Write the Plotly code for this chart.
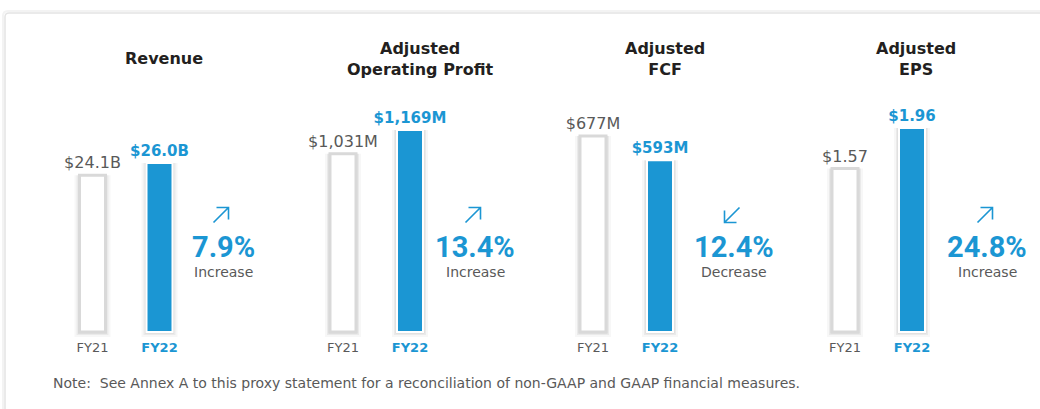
import plotly.graph_objects as go

# ---- chart data ----
metrics = ["Revenue", "Adjusted<br>Operating Profit", "Adjusted<br>FCF", "Adjusted<br>EPS"]
years = ["FY21", "FY22"]
fy21_values = [24.1, 1031, 677, 1.57]
fy22_values = [26.0, 1169, 593, 1.96]
fy21_labels = ["$24.1B", "$1,031M", "$677M", "$1.57"]
fy22_labels = ["$26.0B", "$1,169M", "$593M", "$1.96"]
change_pct = ["7.9%", "13.4%", "12.4%", "24.8%"]
change_dir = ["Increase", "Increase", "Decrease", "Increase"]
note_text = ("Note:  See Annex A to this proxy statement for a reconciliation "
             "of non-GAAP and GAAP financial measures.")

# ---- layout (pixels) ----
W, H = 1040, 409
BLUE = "#1b96d3"
GRAY = "#595959"
DARK = "#231f20"
FONT = "DejaVu Sans"

bar_px = 26          # bar width
slot_px = 67         # distance between the two bar centres
first_bar_x = [92.5, 343, 593, 845]    # centre of FY21 bar in each panel
title_x = [164, 420, 665, 916]
pct_x = [223, 475, 734, 987]
tall_px = [169, 202, 196, 204]        # pixel height of the taller bar per panel
base_y, top_y = 332, 100               # plot area (bar bottom / top)
pad_px = 6                             # room below zero for the shadow


def px(x):
    return x / W


def py(y):
    return 1 - y / H


fig = go.Figure()
layout_axes = {}

for i in range(4):
    ax = "" if i == 0 else str(i + 1)
    vals = [fy21_values[i], fy22_values[i]]
    plot_h = base_y - top_y
    unit = max(vals) / tall_px[i]          # data units per pixel
    y_top = unit * plot_h
    w = bar_px / slot_px

    # soft drop shadow behind the bars
    for grow, alpha in [(10, 0.03), (6, 0.05), (3, 0.07)]:
        fig.add_trace(go.Bar(
            x=[0, 1], y=[v + grow / 2 * unit for v in vals],
            base=-grow / 2 * unit,
            width=(bar_px + grow) / slot_px,
            marker=dict(color=f"rgba(0,0,0,{alpha})", line=dict(width=0)),
            xaxis="x" + ax, yaxis="y" + ax,
            hoverinfo="skip", showlegend=False,
        ))

    fig.add_trace(go.Bar(
        x=[0, 1], y=vals, width=w,
        marker=dict(color=["white", BLUE],
                    line=dict(color=["#d9d9d9", "white"], width=[3, 2])),
        text=[fy21_labels[i], "<b>" + fy22_labels[i] + "</b>"],
        textposition="outside",
        textfont=dict(family=FONT, size=[16, 15], color=[GRAY, BLUE]),
        constraintext="none", cliponaxis=False,
        xaxis="x" + ax, yaxis="y" + ax,
        hoverinfo="skip", showlegend=False,
    ))

    x0 = first_bar_x[i] - slot_px / 2
    x1 = first_bar_x[i] + slot_px * 1.5
    layout_axes["xaxis" + ax] = dict(
        domain=[px(x0), px(x1)], range=[-0.5, 1.5],
        tickvals=[0, 1],
        ticktext=[years[0], f"<span style='color:{BLUE}'><b>{years[1]}</b></span>"],
        tickfont=dict(family=FONT, size=13, color=GRAY),
        ticks="", ticklen=0,
        showgrid=False, zeroline=False, showline=False, fixedrange=True,
        anchor="y" + ax,
    )
    layout_axes["yaxis" + ax] = dict(
        domain=[py(base_y + pad_px), py(top_y)],
        range=[-pad_px * unit, y_top],
        showticklabels=False, showgrid=False, zeroline=False,
        showline=False, fixedrange=True, anchor="x" + ax,
    )

fig.update_layout(**layout_axes)

annotations = []
shapes = []

# card behind the whole graphic
shapes.append(dict(type="path", xref="paper", yref="paper", layer="below",
                   path=f"M {px(5)},{py(420)} L {px(5)},{py(17)} "
                        f"Q {px(5)},{py(13)} {px(9)},{py(13)} L {px(1060)},{py(13)}",
                   line=dict(color="#e4e4e4", width=1.5)))
shapes.append(dict(type="path", xref="paper", yref="paper", layer="below",
                   path=f"M {px(3)},{py(420)} L {px(3)},{py(16)} "
                        f"Q {px(3)},{py(11)} {px(8)},{py(11)} L {px(1060)},{py(11)}",
                   line=dict(color="#f3f3f3", width=2)))

for i in range(4):
    annotations.append(dict(
        x=px(title_x[i]), y=py(59), xref="paper", yref="paper",
        text="<b>" + metrics[i] + "</b>", showarrow=False,
        font=dict(family=FONT, size=16, color=DARK),
        xanchor="center", yanchor="middle"))
    annotations.append(dict(
        x=px(pct_x[i]), y=py(247), xref="paper", yref="paper",
        text="<b>" + change_pct[i] + "</b>", showarrow=False,
        font=dict(family="Roboto", size=29, color=BLUE),
        xanchor="center", yanchor="middle"))
    annotations.append(dict(
        x=px(pct_x[i]), y=py(272), xref="paper", yref="paper",
        text=change_dir[i], showarrow=False,
        font=dict(family=FONT, size=14, color=GRAY),
        xanchor="center", yanchor="middle"))

    # thin arrow drawn as lines: up-right for increase, down-left for decrease
    cx, cy, s, hl = pct_x[i] - 2, 215, 7.5, 12
    if change_dir[i] == "Increase":
        tip = (cx + s, cy - s)
        tail = (cx - s, cy + s)
        head = [(tip[0] - hl, tip[1]), (tip[0], tip[1] + hl)]
    else:
        tip = (cx - s, cy + s)
        tail = (cx + s, cy - s)
        head = [(tip[0] + hl, tip[1]), (tip[0], tip[1] - hl)]
    path = (f"M {px(tail[0])},{py(tail[1])} L {px(tip[0])},{py(tip[1])} "
            f"M {px(head[0][0])},{py(head[0][1])} L {px(tip[0])},{py(tip[1])} "
            f"L {px(head[1][0])},{py(head[1][1])}")
    shapes.append(dict(type="path", xref="paper", yref="paper", path=path,
                       line=dict(color=BLUE, width=1.6)))

annotations.append(dict(
    x=px(51), y=py(383), xref="paper", yref="paper",
    text=note_text, showarrow=False,
    font=dict(family=FONT, size=14, color=GRAY),
    xanchor="left", yanchor="middle"))

fig.update_layout(
    width=W, height=H,
    margin=dict(l=0, r=0, t=0, b=0),
    barmode="overlay",
    paper_bgcolor="white", plot_bgcolor="rgba(0,0,0,0)",
    showlegend=False,
    annotations=annotations,
    shapes=shapes,
)

fig.write_html("out.html", config={"displayModeBar": False},
               post_script="document.body.style.margin='0';")
